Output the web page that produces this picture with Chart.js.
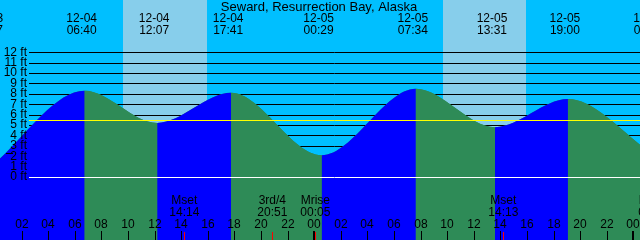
<!DOCTYPE html>
<html>
<head>
<meta charset="utf-8">
<script src="https://cdn.jsdelivr.net/npm/chart.js@4"></script>
<style>
html, body { margin: 0; padding: 0; background: #00bfff; }
</style>
</head>
<body>
<canvas id="tideChart" width="640" height="240"></canvas>
<script>
// time axis is hours counted from 12-04 00:00
var title = 'Seward, Resurrection Bay, Alaska';

// high / low tide events
var tideHours = [-0.383, 6.667, 12.117, 17.683, 24.483, 31.567, 37.517, 43.0, 49.3];
var tideFeet  = [1.0, 8.3, 5.2, 8.1, 2.1, 8.5, 4.8, 7.5, 2.3];
var tideDates = ['12-03', '12-04', '12-04', '12-04', '12-05', '12-05', '12-05', '12-05', '12-06'];
var tideTimes = ['23:37', '06:40', '12:07', '17:41', '00:29', '07:34', '13:31', '19:00', '01:18'];

// daylight bands
var sunRise = [9.57, 33.58];
var sunSet  = [15.85, 39.85];

// moon events
var moonHours = [14.233, 20.85, 24.083, 38.217, 49.5];
var moonNames = ['Mset', '3rd/4', 'Mrise', 'Mset', 'Mrise'];
var moonTimes = ['14:14', '20:51', '00:05', '14:13', '01:30'];

var feetTicks = [0, 1, 2, 3, 4, 5, 6, 7, 8, 9, 10, 11, 12];
var hourTicks = [2, 4, 6, 8, 10, 12, 14, 16, 18, 20, 22, 24, 26, 28, 30, 32, 34, 36, 38, 40, 42, 44, 46, 48];
var meanLevel = 5.46;
var markLevel = 2.35;

var SKY = '#00bfff';
var DAY = '#87ceeb';
var RISING = '#0000ff';
var FALLING = '#2e8b57';
var FONT = '12px "Liberation Sans", Arial, sans-serif';
var TITLE_FONT = '13px "Liberation Sans", Arial, sans-serif';

function pad(n) { return (n < 10 ? '0' : '') + n; }

var tidePainter = {
    id: 'tidePainter',
    beforeDatasetsDraw: function (chart) {
        var c = chart.ctx, xs = chart.scales.x, ys = chart.scales.y, a = chart.chartArea;
        c.save();
        c.fillStyle = SKY;
        c.fillRect(a.left, a.top, a.right - a.left, a.bottom - a.top);
        c.fillStyle = DAY;
        for (var i = 0; i < sunRise.length; i++) {
            var x0 = Math.round(xs.getPixelForValue(sunRise[i]));
            var x1 = Math.round(xs.getPixelForValue(sunSet[i]));
            c.fillRect(x0, a.top, x1 - x0, a.bottom - a.top);
        }
        c.strokeStyle = '#000';
        c.lineWidth = 1;
        feetTicks.forEach(function (f) {
            if (f === 0) return;
            var y = Math.round(ys.getPixelForValue(f)) + 0.5;
            c.beginPath();
            c.moveTo(29, y);
            c.lineTo(a.right, y);
            c.stroke();
        });
        c.restore();
    },
    afterDatasetsDraw: function (chart) {
        var c = chart.ctx, xs = chart.scales.x, ys = chart.scales.y, a = chart.chartArea;
        c.save();
        c.lineWidth = 1;

        // mean level and datum
        var ym = Math.round(ys.getPixelForValue(meanLevel)) + 0.5;
        c.strokeStyle = '#ffff00';
        c.beginPath(); c.moveTo(29, ym); c.lineTo(a.right, ym); c.stroke();
        var y0 = Math.round(ys.getPixelForValue(0)) + 0.5;
        c.strokeStyle = '#ffffff';
        c.beginPath(); c.moveTo(29, y0); c.lineTo(a.right, y0); c.stroke();

        c.font = FONT;
        c.fillStyle = '#000';

        // feet labels
        c.textAlign = 'right';
        c.textBaseline = 'middle';
        feetTicks.forEach(function (f) {
            c.fillText(f + ' ft', 27, ys.getPixelForValue(f));
        });
        var yk = Math.round(ys.getPixelForValue(markLevel)) + 0.5;
        c.strokeStyle = '#000';
        c.beginPath(); c.moveTo(6, yk); c.lineTo(13, yk); c.stroke();

        // title and tide events
        c.textAlign = 'center';
        c.font = TITLE_FONT;
        c.fillText(title, 319, 7);
        c.font = FONT;
        for (var i = 0; i < tideHours.length; i++) {
            var x = xs.getPixelForValue(tideHours[i]) - 3;
            c.fillText(tideDates[i], x, 19);
            c.fillText(tideTimes[i], x, 31);
        }

        // hour ticks
        hourTicks.forEach(function (h) {
            var x = Math.round(xs.getPixelForValue(h)) - 1;
            c.fillText(pad(h % 24), x, 225);
            var w = (h % 24 === 0) ? 2 : 1;
            c.fillRect(x - Math.floor(w / 2), 231, w, 9);
        });

        // moon events
        for (var j = 0; j < moonHours.length; j++) {
            var mx = xs.getPixelForValue(moonHours[j]);
            c.fillStyle = '#000';
            c.fillText(moonNames[j], mx - 1, 201);
            c.fillText(moonTimes[j], mx - 1, 213);
            c.fillStyle = '#ff0000';
            c.fillRect(Math.round(mx) - 1, 232, 1, 8);
        }
        c.restore();
    }
};

var tidePoints = tideHours.map(function (h, i) { return { x: h, y: tideFeet[i] }; });

var ctx = document.getElementById('tideChart').getContext('2d');
var chart = new Chart(ctx, {
    type: 'line',
    data: {
        datasets: [{
            // rising/falling colouring
            data: tidePoints,
            order: 0,
            fill: 'start',
            backgroundColor: RISING,
            borderColor: 'rgba(0,0,0,0)',
            borderWidth: 0,
            pointRadius: 0,
            cubicInterpolationMode: 'monotone',
            segment: {
                backgroundColor: function (s) { return s.p1.parsed.y > s.p0.parsed.y ? RISING : FALLING; }
            }
        }, {
            // same curve underneath so the colour seams don't show the sky
            data: tidePoints,
            order: 1,
            fill: 'start',
            backgroundColor: FALLING,
            borderColor: 'rgba(0,0,0,0)',
            borderWidth: 0,
            pointRadius: 0,
            cubicInterpolationMode: 'monotone'
        }]
    },
    options: {
        responsive: false,
        animation: false,
        devicePixelRatio: 1,
        layout: { padding: 0 },
        plugins: { legend: { display: false }, tooltip: { enabled: false } },
        scales: {
            x: { type: 'linear', min: 0.3, max: 48.42, display: false },
            y: { min: -6.064, max: 17.036, display: false }
        }
    },
    plugins: [tidePainter]
});
</script>
</body>
</html>
